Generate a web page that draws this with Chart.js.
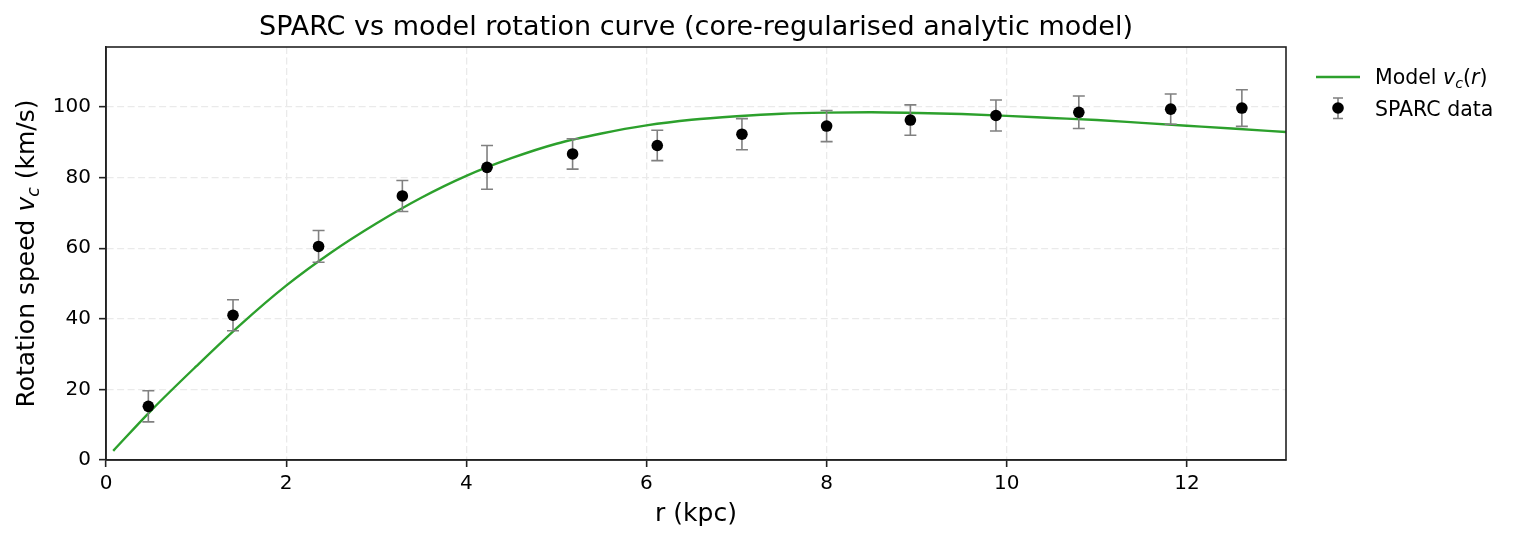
<!DOCTYPE html>
<html>
<head>
<meta charset="utf-8">
<script src="https://cdn.jsdelivr.net/npm/chart.js@4"></script>
<style>
  html, body { margin: 0; padding: 0; background: #fff; }
  #wrap { position: relative; width: 1517px; height: 542px; }
</style>
</head>
<body>
<div id="wrap"><canvas id="myChart"></canvas></div>
<script>
// SPARC points (r in kpc, v in km/s, 1-sigma errors)
const rData = [0.47, 1.41, 2.36, 3.29, 4.23, 5.18, 6.12, 7.06, 8.00, 8.93, 9.88, 10.80, 11.82, 12.61];
const vData = [15.2, 41.0, 60.5, 74.8, 82.9, 86.7, 89.1, 92.3, 94.6, 96.3, 97.6, 98.5, 99.4, 99.7];
const vErr = [4.4, 4.4, 4.5, 4.4, 6.2, 4.3, 4.3, 4.4, 4.4, 4.3, 4.4, 4.6, 4.3, 5.2];

// model curve
const rModel = [0.08, 0.5, 1.0, 1.5, 2.0, 2.5, 3.0, 3.5, 4.0, 4.5, 5.0, 5.5, 6.0, 6.5, 7.0,
                7.5, 8.0, 8.5, 9.0, 9.5, 10.0, 10.5, 11.0, 11.5, 12.0, 12.5, 13.1];
const vModel = [2.6, 14.0, 26.5, 38.5, 49.4, 58.8, 67.0, 74.3, 80.5, 85.5, 89.6, 92.5, 94.8, 96.4, 97.4,
                98.1, 98.4, 98.5, 98.3, 98.0, 97.5, 96.9, 96.3, 95.5, 94.7, 93.9, 92.9];

const xTicks = [0, 2, 4, 6, 8, 10, 12];
const yTicks = [0, 20, 40, 60, 80, 100];

const FONT = 'DejaVu Sans';
const GREEN = '#2ca02c';
const ERR = '#808080';
const AXIS = '#222';

// draws text made of pieces (italic / subscript), left aligned at x, baseline y
function mathText(ctx, parts, x, y, size) {
    for (const p of parts) {
        const s = p.sub ? size * 0.7 : size;
        ctx.font = (p.italic ? 'italic ' : '') + s + 'px "' + FONT + '"';
        ctx.fillText(p.t, x, y + (p.sub ? size * 0.2 : 0));
        x += ctx.measureText(p.t).width;
    }
    return x;
}
function mathWidth(ctx, parts, size) {
    let w = 0;
    for (const p of parts) {
        const s = p.sub ? size * 0.7 : size;
        ctx.font = (p.italic ? 'italic ' : '') + s + 'px "' + FONT + '"';
        w += ctx.measureText(p.t).width;
    }
    return w;
}

function errorBar(ctx, x, yTop, yBot, cap) {
    ctx.beginPath();
    ctx.moveTo(x, yTop); ctx.lineTo(x, yBot);
    ctx.moveTo(x - cap, yTop); ctx.lineTo(x + cap, yTop);
    ctx.moveTo(x - cap, yBot); ctx.lineTo(x + cap, yBot);
    ctx.stroke();
}

const extras = {
    id: 'extras',
    beforeDatasetDraw(chart, args) {
        if (args.index !== 1) return;
        const {ctx, scales: {x, y}} = chart;
        ctx.save();
        ctx.strokeStyle = ERR;
        ctx.lineWidth = 1.6;
        rData.forEach((r, i) => {
            errorBar(ctx, x.getPixelForValue(r),
                y.getPixelForValue(vData[i] + vErr[i]),
                y.getPixelForValue(vData[i] - vErr[i]), 6);
        });
        ctx.restore();
    },
    afterDraw(chart) {
        const {ctx, chartArea: a} = chart;
        ctx.save();
        // top and right spines
        ctx.strokeStyle = AXIS;
        ctx.lineWidth = 1.6;
        ctx.strokeRect(a.left, a.top, a.right - a.left, a.bottom - a.top);

        // y axis title
        ctx.fillStyle = '#000';
        ctx.textBaseline = 'alphabetic';
        const yParts = [{t: 'Rotation speed '}, {t: 'v', italic: true}, {t: 'c', italic: true, sub: true}, {t: ' (km/s)'}];
        const size = 25;
        ctx.translate(33.5, (a.top + a.bottom) / 2);
        ctx.rotate(-Math.PI / 2);
        mathText(ctx, yParts, -mathWidth(ctx, yParts, size) / 2, 0, size);
        ctx.restore();

        // legend
        ctx.save();
        ctx.fillStyle = '#000';
        ctx.textBaseline = 'alphabetic';
        const lx = a.right + 30;
        ctx.strokeStyle = GREEN;
        ctx.lineWidth = 2.4;
        ctx.beginPath(); ctx.moveTo(lx, 77); ctx.lineTo(lx + 44, 77); ctx.stroke();
        mathText(ctx, [{t: 'Model '}, {t: 'v', italic: true}, {t: 'c', italic: true, sub: true}, {t: '('}, {t: 'r', italic: true}, {t: ')'}], lx + 59, 84, 20.5);
        ctx.strokeStyle = ERR;
        ctx.lineWidth = 1.6;
        errorBar(ctx, lx + 22, 98, 118.5, 5);
        ctx.fillStyle = '#000';
        ctx.beginPath(); ctx.arc(lx + 22, 108, 5.8, 0, Math.PI * 2); ctx.fill();
        mathText(ctx, [{t: 'SPARC data'}], lx + 59, 116, 20.5);
        ctx.restore();
    }
};

const gridOpts = {
    color: 'rgb(234,234,234)',
    lineWidth: 1.3,
    tickColor: AXIS,
    tickLength: 7,
    tickWidth: 1.6,
    tickBorderDash: []
};
const borderOpts = { color: AXIS, width: 1.6, dash: [7, 3.5] };

const config = {
    type: 'scatter',
    data: {
        datasets: [{
            type: 'line',
            label: 'Model',
            data: rModel.map((r, i) => ({x: r, y: vModel[i]})),
            borderColor: GREEN,
            borderWidth: 2.4,
            pointRadius: 0,
            cubicInterpolationMode: 'monotone',
            fill: false,
            order: 2
        }, {
            label: 'SPARC data',
            data: rData.map((r, i) => ({x: r, y: vData[i]})),
            backgroundColor: '#000',
            borderWidth: 0,
            pointRadius: 5.8,
            order: 1
        }]
    },
    options: {
        responsive: true,
        maintainAspectRatio: false,
        animation: false,
        devicePixelRatio: 1,
        layout: { padding: { top: 0, right: 231, bottom: 0, left: 0 } },
        plugins: {
            legend: { display: false },
            tooltip: { enabled: false },
            title: {
                display: true,
                fullSize: false,
                text: 'SPARC vs model rotation curve (core-regularised analytic model)',
                color: '#000',
                font: { family: FONT, size: 27, weight: 'normal' },
                padding: { top: 11.5, bottom: 3.1 }
            }
        },
        scales: {
            x: {
                type: 'linear',
                min: 0,
                max: 13.1,
                afterBuildTicks: s => { s.ticks = xTicks.map(v => ({value: v})); },
                afterFit: s => { s.height = 82; },
                ticks: { color: '#000', font: { family: FONT, size: 20 }, padding: 5, maxRotation: 0, autoSkip: false },
                grid: gridOpts,
                border: borderOpts,
                title: {
                    display: true,
                    text: 'r (kpc)',
                    color: '#000',
                    font: { family: FONT, size: 25 },
                    padding: { top: 0, bottom: 13 }
                }
            },
            y: {
                type: 'linear',
                min: 0,
                max: 117,
                afterBuildTicks: s => { s.ticks = yTicks.map(v => ({value: v})); },
                afterFit: s => { s.width = 106; },
                ticks: { color: '#000', font: { family: FONT, size: 20 }, padding: 8, autoSkip: false },
                grid: gridOpts,
                border: borderOpts
            }
        }
    },
    plugins: [extras]
};

const myChart = new Chart(document.getElementById('myChart'), config);
</script>
</body>
</html>
